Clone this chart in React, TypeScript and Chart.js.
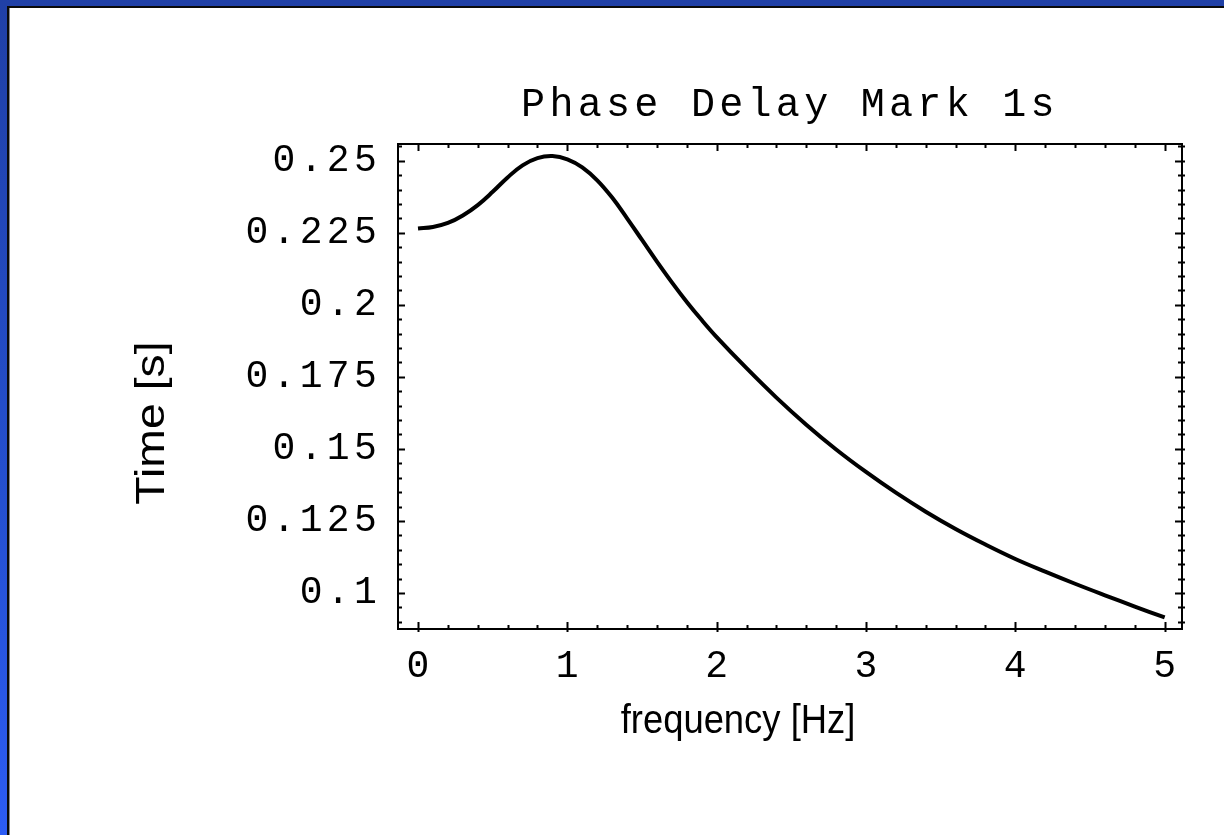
import React, { useEffect, useRef } from 'react';
import { Chart, registerables } from 'chart.js';

Chart.register(...registerables);

// ---- data ----
const frequency = [0, 0.1, 0.2, 0.3, 0.4, 0.5, 0.6, 0.7, 0.8, 0.9, 1.0, 1.1, 1.2, 1.3, 1.4, 1.5, 1.6, 1.7, 1.8, 1.9, 2.0, 2.2, 2.4, 2.6, 2.8, 3.0, 3.2, 3.4, 3.6, 3.8, 4.0, 4.2, 4.4, 4.6, 4.8, 5.0];
const phaseDelay = [0.2265, 0.2270, 0.2284, 0.2310, 0.2346, 0.2392, 0.2442, 0.2484, 0.2509, 0.2516, 0.2505, 0.2477, 0.2432, 0.2372, 0.2300, 0.2225, 0.2150, 0.2078, 0.2010, 0.1947, 0.1888, 0.1780, 0.1678, 0.1584, 0.1498, 0.1420, 0.1348, 0.1282, 0.1222, 0.1168, 0.1118, 0.1074, 0.1032, 0.0992, 0.0953, 0.0915];

const xTickValues = [0, 1, 2, 3, 4, 5];
const xTickLabels = ['0', '1', '2', '3', '4', '5'];
const yTickValues = [0.1, 0.125, 0.15, 0.175, 0.2, 0.225, 0.25];
const yTickLabels = ['0.1', '0.125', '0.15', '0.175', '0.2', '0.225', '0.25'];
const xMinorStep = 0.2;
const yMinorStep = 0.005;

const chartTitle = 'Phase Delay Mark 1s';
const xTitle = 'frequency [Hz]';
const yTitle = 'Time [s]';

const X_MIN = -0.134;
const X_MAX = 5.116;
const Y_MIN = 0.0875;
const Y_MAX = 0.2558;

const W = 1224;
const H = 835;
const MONO = "'Liberation Mono', 'Courier New', monospace";
const SANS = "'Liberation Sans', Arial, sans-serif";
const LETTER_SPACING = '4.3px';

const spacingPlugin = {
  id: 'spacing',
  beforeUpdate(chart: any) {
    chart.ctx.letterSpacing = LETTER_SPACING;
  },
  beforeDraw(chart: any) {
    chart.ctx.letterSpacing = LETTER_SPACING;
  },
};

const framePlugin = {
  id: 'frame',
  afterDraw(chart: any) {
    const { ctx, chartArea: a, scales } = chart;
    const xs = scales.x;
    const ys = scales.y;
    ctx.save();
    ctx.letterSpacing = '0px';
    ctx.strokeStyle = '#000';
    ctx.lineWidth = 2;
    ctx.strokeRect(a.left, a.top, a.right - a.left, a.bottom - a.top);

    const isMajor = (v: number, majors: number[]) => majors.some((m) => Math.abs(m - v) < 1e-6);
    ctx.beginPath();
    for (let i = Math.ceil(X_MIN / xMinorStep); i * xMinorStep <= X_MAX; i++) {
      const v = i * xMinorStep;
      const px = Math.round(xs.getPixelForValue(v)) + 0.5;
      const major = isMajor(v, xTickValues);
      const inLen = major ? 7 : 4;
      ctx.moveTo(px, a.bottom + (major ? 3 : 0));
      ctx.lineTo(px, a.bottom - inLen);
      ctx.moveTo(px, a.top);
      ctx.lineTo(px, a.top + inLen);
    }
    for (let i = Math.ceil(Y_MIN / yMinorStep - 1e-6); i * yMinorStep <= Y_MAX + 1e-9; i++) {
      const v = i * yMinorStep;
      const py = Math.round(ys.getPixelForValue(v)) + 0.5;
      const major = isMajor(v, yTickValues);
      const inLen = major ? 7 : 4;
      ctx.moveTo(a.left, py);
      ctx.lineTo(a.left + inLen, py);
      ctx.moveTo(a.right + 3, py);
      ctx.lineTo(a.right - inLen, py);
    }
    ctx.lineWidth = 2;
    ctx.stroke();

    // axis titles
    ctx.fillStyle = '#000';
    ctx.font = `40px ${SANS}`;
    ctx.textAlign = 'center';
    ctx.textBaseline = 'middle';
    ctx.save();
    ctx.translate(738, 722);
    ctx.scale(0.91, 1);
    ctx.fillText(xTitle, 0, 0);
    ctx.restore();
    ctx.save();
    ctx.translate(153, 423);
    ctx.rotate(-Math.PI / 2);
    ctx.scale(1.16, 1);
    ctx.fillText(yTitle, 0, 0);
    ctx.restore();
    ctx.restore();
  },
};

function PhaseChart() {
  const ref = useRef<HTMLCanvasElement | null>(null);
  useEffect(() => {
    if (!ref.current) return;
    const chart = new Chart(ref.current, {
      type: 'line',
      data: {
        datasets: [
          {
            data: frequency.map((f, i) => ({ x: f, y: phaseDelay[i] })),
            borderColor: '#000',
            borderWidth: 4,
            pointRadius: 0,
            fill: false,
            tension: 0.4,
          },
        ],
      },
      options: {
        responsive: false,
        animation: false,
        devicePixelRatio: 1,
        layout: { padding: { left: 0, top: 81, right: W - 1182, bottom: 0 } },
        plugins: {
          legend: { display: false },
          tooltip: { enabled: false },
          title: {
            display: true,
            text: chartTitle,
            fullSize: false,
            color: '#000',
            font: { family: MONO, size: 40, weight: 'normal', lineHeight: 1.2 },
            padding: { top: 0, bottom: 15 },
          },
        },
        scales: {
          x: {
            type: 'linear',
            min: X_MIN,
            max: X_MAX,
            grid: { display: false, drawTicks: false },
            border: { display: false },
            afterFit: (s: any) => {
              s.height = H - 629;
            },
            afterBuildTicks: (s: any) => {
              s.ticks = xTickValues.map((v) => ({ value: v }));
            },
            ticks: {
              color: '#000',
              padding: 15,
              labelOffset: 2,
              maxRotation: 0,
              autoSkip: false,
              font: { family: MONO, size: 38 },
              callback: (v: any) => {
                const i = xTickValues.findIndex((t) => Math.abs(t - v) < 1e-9);
                return i >= 0 ? xTickLabels[i] : '';
              },
            },
          },
          y: {
            type: 'linear',
            min: Y_MIN,
            max: Y_MAX,
            grid: { display: false, drawTicks: false },
            border: { display: false },
            afterFit: (s: any) => {
              s.width = 398;
            },
            afterBuildTicks: (s: any) => {
              s.ticks = yTickValues.map((v) => ({ value: v }));
            },
            ticks: {
              color: '#000',
              padding: 17,
              autoSkip: false,
              font: { family: MONO, size: 38 },
              callback: (v: any) => {
                const i = yTickValues.findIndex((t) => Math.abs(t - v) < 1e-9);
                return i >= 0 ? yTickLabels[i] : '';
              },
            },
          },
        },
      },
      plugins: [spacingPlugin, framePlugin],
    } as any);
    return () => chart.destroy();
  }, []);
  return <canvas ref={ref} width={W} height={H} style={{ position: 'absolute', left: 0, top: 0, width: W, height: H }} />;
}

export default function App() {
  return (
    <div style={{ position: 'fixed', left: 0, top: 0, width: W, height: H, overflow: 'hidden' }}>
      <div
        style={{
          position: 'absolute',
          left: 0,
          top: 0,
          width: W,
          height: H,
          background: 'linear-gradient(to bottom, #2040a6 0%, #2550d0 60%, #2c5cf4 100%)',
        }}
      />
      <div
        style={{
          position: 'absolute',
          left: 7,
          top: 6,
          right: 0,
          bottom: 0,
          background: '#fff',
          borderTop: '2px solid #0a0a0a',
          borderLeft: '2px solid #0a0a0a',
          boxShadow: 'inset 1px 0 0 #8a8a8a',
        }}
      />
      <PhaseChart />
    </div>
  );
}
